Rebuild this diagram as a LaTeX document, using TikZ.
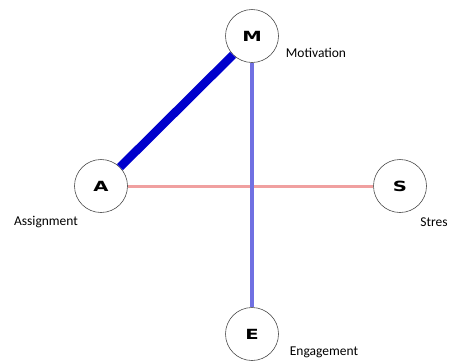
\documentclass[tikz,border=0pt]{standalone}
\usepackage{fontspec}
\setmainfont{Carlito}
\newfontfamily\letterfont{DejaVu Sans}
\usepackage{tikz}

\tikzset{
	factor/.style={circle, draw=black!70, line width=0.6pt, fill=white, minimum size=53pt, inner sep=0pt, font=\letterfont\bfseries\fontsize{14}{14}\selectfont},
	factorlabel/.style={font=\fontsize{13.5}{15}\selectfont, inner sep=0pt}
}

\begin{document}
\begin{tikzpicture}[x=1pt, y=-1pt]
			%%%%% START %%%%%
			
			\useasboundingbox (0, 0) rectangle (452, 360);
			
			\node[factor] (M) at (252, 36) {\scalebox{1.4}[1]{M}};
			\node[factor] (A) at (101, 186) {\scalebox{1.4}[1]{A}};
			\node[factor] (S) at (400, 186) {\scalebox{1.4}[1]{S}};
			\node[factor] (E) at (252, 334) {\scalebox{1.4}[1]{E}};
			
			\draw[line width=3pt, color={rgb,255:red,240;green,160;blue,160}] (A) -- (S);
			\draw[line width=4.5pt, color={rgb,255:red,112;green,112;blue,226}] (M) -- (E);
			\draw[line width=8.5pt, color={rgb,255:red,0;green,0;blue,204}] (A) -- (M);
			
			\node[factorlabel] (Mlabel) at (316, 53) {Motivation};
			\node[factorlabel] (Alabel) at (46, 222) {Assignment};
			\node[factorlabel] (Slabel) at (434, 222) {Stres};
			\node[factorlabel] (Elabel) at (324, 352) {Engagement};
			
			%%%%% END %%%%%
\end{tikzpicture}
\end{document}
